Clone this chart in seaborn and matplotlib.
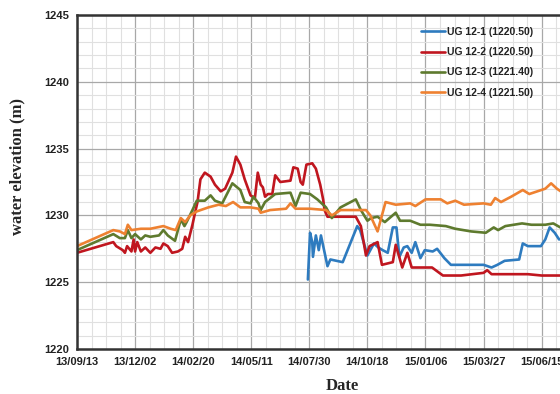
import numpy as np
import pandas as pd
import matplotlib
matplotlib.use("Agg")
import matplotlib.pyplot as plt
import matplotlib.dates as mdates
from matplotlib.ticker import MultipleLocator
import seaborn as sns

# Monitoring start date; observation times are stored as elapsed days from it
start_date = "2013-09-13"

labels = ["UG 12-1 (1220.50)", "UG 12-2 (1220.50)", "UG 12-3 (1221.40)", "UG 12-4 (1221.50)"]
colors = ["#2E7BBF", "#C0161F", "#5E7A2E", "#EE8131"]

days_ug1 = [318, 321, 324, 325, 329, 333, 336, 345, 349, 366, 386, 390, 400, 409, 415, 421,
            428, 435, 440, 444, 450, 455, 461, 466, 473, 479, 490, 496, 506, 515, 533, 560,
            571, 579, 589, 609, 614, 621, 639, 645, 651, 658, 664, 670]
elev_ug1 = [1225.2, 1228.7, 1228.0, 1226.9, 1228.5, 1227.4, 1228.5, 1226.2, 1226.7, 1226.5,
            1229.2, 1228.9, 1227.0, 1227.9, 1227.6, 1227.4, 1227.2, 1229.1, 1229.1, 1226.9,
            1227.6, 1227.7, 1227.2, 1228.0, 1226.8, 1227.4, 1227.3, 1227.5, 1226.8, 1226.3,
            1226.3, 1226.3, 1226.1, 1226.3, 1226.6, 1226.7, 1227.9, 1227.7, 1227.7, 1228.2,
            1229.1, 1228.7, 1228.2, 1228.3]

days_ug2 = [0, 50, 54, 63, 66, 69, 75, 78, 80, 83, 88, 94, 101, 108, 115, 119, 125, 131, 139,
            145, 149, 153, 159, 163, 166, 170, 176, 184, 190, 198, 204, 214, 219, 225, 231,
            239, 245, 249, 253, 256, 259, 263, 269, 273, 280, 294, 298, 304, 308, 311, 316,
            324, 329, 335, 339, 341, 345, 384, 391, 398, 403, 414, 420, 435, 439, 448, 455,
            461, 474, 489, 504, 529, 560, 565, 571, 593, 621, 640, 669]
elev_ug2 = [1227.2, 1228.0, 1227.7, 1227.4, 1227.2, 1227.7, 1227.3, 1228.2, 1227.3, 1228.0,
            1227.3, 1227.6, 1227.2, 1227.6, 1227.5, 1227.9, 1227.7, 1227.2, 1227.3, 1227.5,
            1228.4, 1228.0, 1229.3, 1230.3, 1231.0, 1232.7, 1233.2, 1232.9, 1232.3, 1231.8,
            1232.0, 1233.2, 1234.4, 1233.8, 1232.7, 1231.5, 1231.3, 1233.2, 1232.3, 1232.1,
            1231.4, 1231.6, 1231.6, 1233.0, 1232.5, 1232.6, 1233.6, 1233.5, 1232.5, 1232.3,
            1233.8, 1233.9, 1233.5, 1232.3, 1231.2, 1230.4, 1229.9, 1229.9, 1229.2, 1227.0,
            1227.7, 1228.0, 1226.3, 1226.5, 1227.8, 1226.1, 1227.2, 1226.1, 1226.1, 1226.1,
            1225.5, 1225.5, 1225.7, 1225.9, 1225.6, 1225.6, 1225.6, 1225.5, 1225.5]

days_ug3 = [0, 50, 59, 66, 70, 75, 80, 88, 94, 101, 113, 119, 125, 135, 143, 148, 151, 159,
            165, 176, 184, 190, 200, 214, 225, 231, 239, 243, 250, 253, 259, 273, 294, 301,
            308, 321, 331, 343, 351, 363, 384, 391, 400, 405, 414, 424, 439, 445, 459, 473,
            486, 508, 521, 543, 563, 574, 580, 590, 613, 626, 645, 656, 669]
elev_ug3 = [1227.4, 1228.6, 1228.3, 1228.3, 1228.9, 1228.3, 1228.6, 1228.2, 1228.5, 1228.4,
            1228.5, 1228.9, 1228.5, 1228.1, 1229.7, 1229.2, 1229.5, 1230.4, 1231.1, 1231.1,
            1231.5, 1231.1, 1230.9, 1232.4, 1231.9, 1231.0, 1230.9, 1231.4, 1230.9, 1230.4,
            1231.0, 1231.6, 1231.7, 1230.7, 1231.7, 1231.6, 1231.2, 1230.6, 1229.8, 1230.6,
            1231.2, 1230.4, 1229.6, 1229.8, 1229.9, 1229.5, 1230.2, 1229.6, 1229.6, 1229.3,
            1229.3, 1229.2, 1229.0, 1228.8, 1228.7, 1229.1, 1228.9, 1229.2, 1229.4, 1229.3,
            1229.3, 1229.4, 1229.0]

days_ug4 = [0, 50, 59, 66, 70, 75, 88, 101, 119, 129, 136, 143, 149, 156, 165, 181, 195, 205,
            215, 225, 239, 250, 253, 266, 288, 294, 301, 321, 343, 351, 363, 398, 404, 414,
            425, 439, 459, 466, 480, 501, 510, 521, 533, 560, 570, 576, 584, 598, 614, 623,
            645, 653, 661, 669]
elev_ug4 = [1227.7, 1228.9, 1228.8, 1228.6, 1229.3, 1228.9, 1229.0, 1229.0, 1229.2, 1229.0,
            1228.9, 1229.8, 1229.5, 1230.0, 1230.3, 1230.6, 1230.8, 1230.7, 1231.0, 1230.6,
            1230.6, 1230.5, 1230.2, 1230.4, 1230.5, 1230.9, 1230.5, 1230.5, 1230.4, 1230.0,
            1230.4, 1230.4, 1230.0, 1228.8, 1231.0, 1230.8, 1230.9, 1230.7, 1231.2, 1231.2,
            1230.9, 1231.1, 1230.8, 1230.9, 1230.8, 1231.3, 1231.0, 1231.4, 1231.9, 1231.6,
            1232.0, 1232.4, 1232.0, 1231.7]

# Major date ticks every 80 days, minor every 20
tick_step_days = 80
tick_count = 9
minor_step_days = 20
span_days = 730

origin = pd.Timestamp(start_date)
frames = []
for lab, d, v in zip(labels, [days_ug1, days_ug2, days_ug3, days_ug4],
                     [elev_ug1, elev_ug2, elev_ug3, elev_ug4]):
    frames.append(pd.DataFrame({
        "Date": origin + pd.to_timedelta(d, unit="D"),
        "elevation": v,
        "well": lab,
    }))
df = pd.concat(frames, ignore_index=True)

sns.set_theme(style="white")
plt.rcParams["font.family"] = ["Liberation Sans", "DejaVu Sans"]

fig = plt.figure(figsize=(5.6, 3.94), dpi=100)
# axes run past the right edge of the figure
ax = fig.add_axes([77 / 560, 45 / 394, 530 / 560, 334 / 394])

sns.lineplot(data=df, x="Date", y="elevation", hue="well", hue_order=labels,
             palette=colors, linewidth=1.9, ax=ax, estimator=None, sort=False)

ticks = [origin + pd.Timedelta(days=tick_step_days * k) for k in range(tick_count)]
minor_ticks = [origin + pd.Timedelta(days=minor_step_days * k)
               for k in range(span_days // minor_step_days + 1)]
ax.set_xticks(ticks)
ax.set_xticks(minor_ticks, minor=True)
ax.xaxis.set_major_formatter(mdates.DateFormatter("%y/%m/%d"))
ax.yaxis.set_major_locator(MultipleLocator(5))
ax.yaxis.set_minor_locator(MultipleLocator(1))

ax.set_ylim(1220, 1245)
ax.set_xlim(origin, origin + pd.Timedelta(days=span_days))

ax.grid(which="major", color="#a8a8a8", linewidth=0.9)
ax.grid(which="minor", color="#e0e0e0", linewidth=0.8)
ax.set_axisbelow(True)

for side in ["top", "left", "bottom"]:
    ax.spines[side].set_color("#333333")
    ax.spines[side].set_linewidth(1.8)
ax.spines["right"].set_visible(False)

ax.tick_params(axis="both", which="major", direction="in", length=0,
               labelsize=8, colors="#222222", pad=6)
ax.tick_params(axis="both", which="minor", direction="in", length=3,
               color="#444444", width=0.8)
for t in ax.get_xticklabels() + ax.get_yticklabels():
    t.set_fontweight("bold")

ax.set_xlabel("Date", family=["Liberation Serif"], fontweight="bold",
              fontsize=12, labelpad=8)
ax.set_ylabel("water elevation (m)", family=["Liberation Serif"], fontweight="bold",
              fontsize=12)
ax.yaxis.set_label_coords(-0.097, 0.545)

leg = ax.legend(loc="upper left", bbox_to_anchor=(335 / 530, 0.992), frameon=False,
                fontsize=7.5, handlelength=2.3, handletextpad=0.2, labelspacing=0.98)
for t in leg.get_texts():
    t.set_fontweight("bold")
    t.set_color("#222222")

fig.savefig("out.png", dpi=100)
